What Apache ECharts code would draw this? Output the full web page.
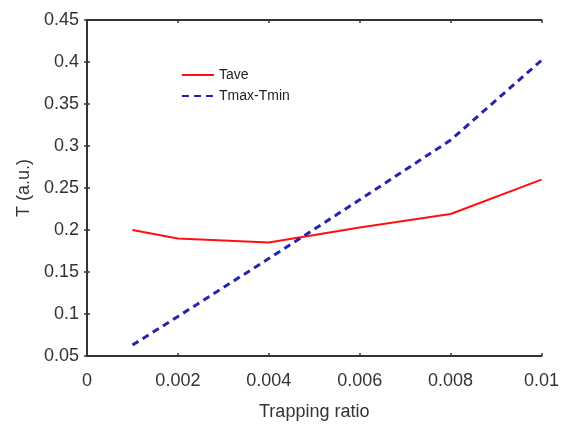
<!DOCTYPE html>
<html>
<head>
<meta charset="utf-8">
<script src="https://cdn.jsdelivr.net/npm/echarts@6/dist/echarts.min.js"></script>
<style>html,body{margin:0;padding:0;background:#fff}#c{width:562px;height:435px}</style>
</head>
<body>
<div id="c"></div>
<script>
const trappingRatio = [0.001, 0.002, 0.004, 0.006, 0.008, 0.01];
const tave = [0.200, 0.190, 0.185, 0.203, 0.219, 0.260];
const tmaxMinusTmin = [0.063, 0.097, 0.166, 0.236, 0.307, 0.402];
const xTicks = [0, 0.002, 0.004, 0.006, 0.008, 0.01];
const yTicks = [0.05, 0.1, 0.15, 0.2, 0.25, 0.3, 0.35, 0.4, 0.45];

const font = 'Liberation Sans, Arial, sans-serif';
const axisCol = '#333';
const chart = echarts.init(document.getElementById('c'));
const pair = (xs, ys) => xs.map((x, i) => [x, ys[i]]);
chart.setOption({
  animation: false,
  backgroundColor: '#fff',
  grid: {left: 87, right: 19, top: 20, bottom: 79, containLabel: false},
  legend: {
    left: 176, top: 63, orient: 'vertical', itemWidth: 32, itemHeight: 14, itemGap: 7, itemTextGap: 9,
    itemStyle: {opacity: 0},
    textStyle: {fontFamily: font, fontSize: 14, color: '#222'},
    data: ['Tave', 'Tmax-Tmin']
  },
  xAxis: [{
    type: 'value', min: 0, max: 0.01, interval: 0.002, position: 'bottom',
    name: 'Trapping ratio', nameLocation: 'middle', nameGap: 47,
    nameTextStyle: {fontFamily: font, fontSize: 18, color: '#333'},
    axisLine: {show: true, lineStyle: {color: axisCol, width: 2}},
    axisTick: {show: true, inside: true, length: 3, lineStyle: {color: axisCol, width: 1.5}},
    axisLabel: {fontFamily: font, fontSize: 18, color: '#333', margin: 16,
      formatter: v => { const m = xTicks.find(t => Math.abs(t - v) < 1e-9); return m === undefined ? '' : String(+m.toFixed(3)); }},
    splitLine: {show: false}
  }, {
    type: 'value', min: 0, max: 0.01, interval: 0.002, position: 'top',
    axisLine: {show: true, lineStyle: {color: axisCol, width: 2}},
    axisTick: {show: true, inside: true, length: 3, lineStyle: {color: axisCol, width: 1.5}},
    axisLabel: {show: false}, splitLine: {show: false}
  }],
  yAxis: [{
    type: 'value', min: 0.05, max: 0.45, interval: 0.05, position: 'left',
    name: 'T (a.u.)', nameLocation: 'middle', nameGap: 47,
    nameTextStyle: {fontFamily: font, fontSize: 18, color: '#333'},
    axisLine: {show: true, lineStyle: {color: axisCol, width: 2}},
    axisTick: {show: true, inside: true, length: 3, lineStyle: {color: axisCol, width: 1.5}},
    axisLabel: {fontFamily: font, fontSize: 18, color: '#333', margin: 8,
      formatter: v => { const m = yTicks.find(t => Math.abs(t - v) < 1e-9); return m === undefined ? '' : String(+m.toFixed(2)); }},
    splitLine: {show: false}
  }, {
    type: 'value', min: 0.05, max: 0.45, interval: 0.05, position: 'right',
    axisLine: {show: true, lineStyle: {color: axisCol, width: 2}},
    axisTick: {show: true, inside: true, length: 3, lineStyle: {color: axisCol, width: 1.5}},
    axisLabel: {show: false}, splitLine: {show: false}
  }],
  series: [{
    name: 'Tave', type: 'line', xAxisIndex: 0, yAxisIndex: 0, symbol: 'none',
    data: pair(trappingRatio, tave),
    itemStyle: {color: '#ff1010'},
    lineStyle: {color: '#ff1010', width: 2}
  }, {
    name: 'Tmax-Tmin', type: 'line', xAxisIndex: 0, yAxisIndex: 0, symbol: 'none',
    data: pair(trappingRatio, tmaxMinusTmin),
    itemStyle: {color: '#2424b0'},
    lineStyle: {color: '#2424b0', width: 3, type: [7, 5]}
  }]
});
</script>
</body>
</html>
